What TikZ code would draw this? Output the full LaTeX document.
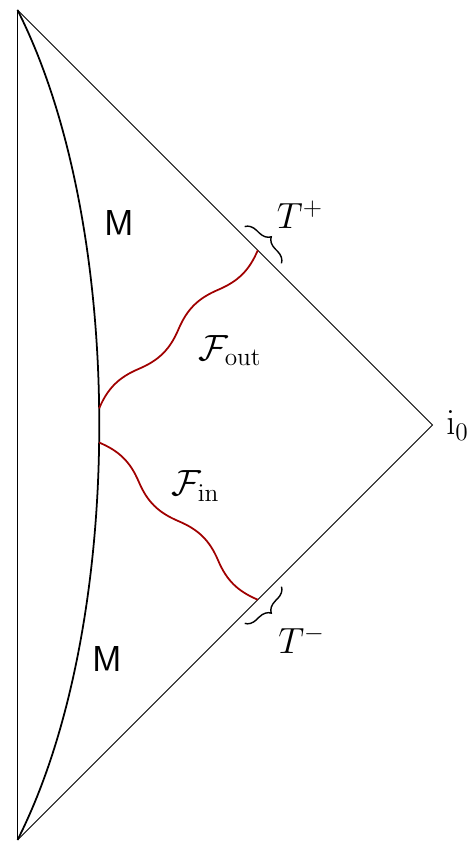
\documentclass[tikz,border=0pt]{standalone}
\usepackage{amsmath,amssymb}
\usetikzlibrary{calc,decorations.pathreplacing}
\definecolor{fluxred}{HTML}{A00000}
\tikzset{
  edge/.style={draw=black,line width=0.5pt},
  wall/.style={draw=black,line width=1pt},
  flux/.style={draw=fluxred,line width=1pt},
  tbrace/.style={draw=black,line width=0.8pt,decorate,decoration={brace,amplitude=2.3mm,raise=1.5mm}},
  region/.style={font=\sffamily\fontsize{20.5}{24}\selectfont},
  lab/.style={font=\fontsize{21}{25}\selectfont,anchor=base}
}

\begin{document}
\begin{tikzpicture}[x=1cm,y=1cm]
\path[use as bounding box] (0,0) rectangle (9.42,16.86);
\coordinate (top) at (0.35,16.66); \coordinate (bot) at (0.35,0.06); \coordinate (io) at (8.65,8.36);
\draw[edge] (top)--(bot); \draw[edge] (top)--(io)--(bot);
\draw[wall] (top) .. controls (2.53,12.36) and (2.53,4.36) .. (bot) coordinate[pos=0.482] (A) coordinate[pos=0.519] (C);
\coordinate (B) at ($(top)!0.579!(io)$); \coordinate (D) at ($(bot)!0.579!(io)$);
\draw[flux] (A) to[out=67,in=203] ($(A)!0.25!(B)$) to[out=23,in=247] ($(A)!0.5!(B)$)
  to[out=67,in=203] ($(A)!0.75!(B)$) to[out=23,in=247] (B);
\draw[flux] (C) to[out=-23,in=113] ($(C)!0.25!(D)$) to[out=-67,in=157] ($(C)!0.5!(D)$)
  to[out=-23,in=113] ($(C)!0.75!(D)$) to[out=-67,in=157] (D);
\draw[tbrace] ($(B)!0.52cm!(top)$)--($(B)!0.52cm!(io)$);
\draw[tbrace] ($(D)!0.52cm!(io)$)--($(D)!0.52cm!(bot)$);
\node[region] (mtop) at (2.38,12.40) {M}; \node[region] (mbot) at (2.14,3.67) {M};
\node[lab] (tplus) at (6.00,12.29) {$T^+$}; \node[lab] (tminus) at (6.03,3.79) {$T^-$};
\node[lab] (izero) at (9.15,8.16) {$\mathrm{i}_0$};
\node[lab] (fout) at (4.60,9.65) {$\mathcal{F}_{\mathrm{out}}$}; \node[lab] (fin) at (3.91,6.94) {$\mathcal{F}_{\mathrm{in}}$};
\end{tikzpicture}
\end{document}
